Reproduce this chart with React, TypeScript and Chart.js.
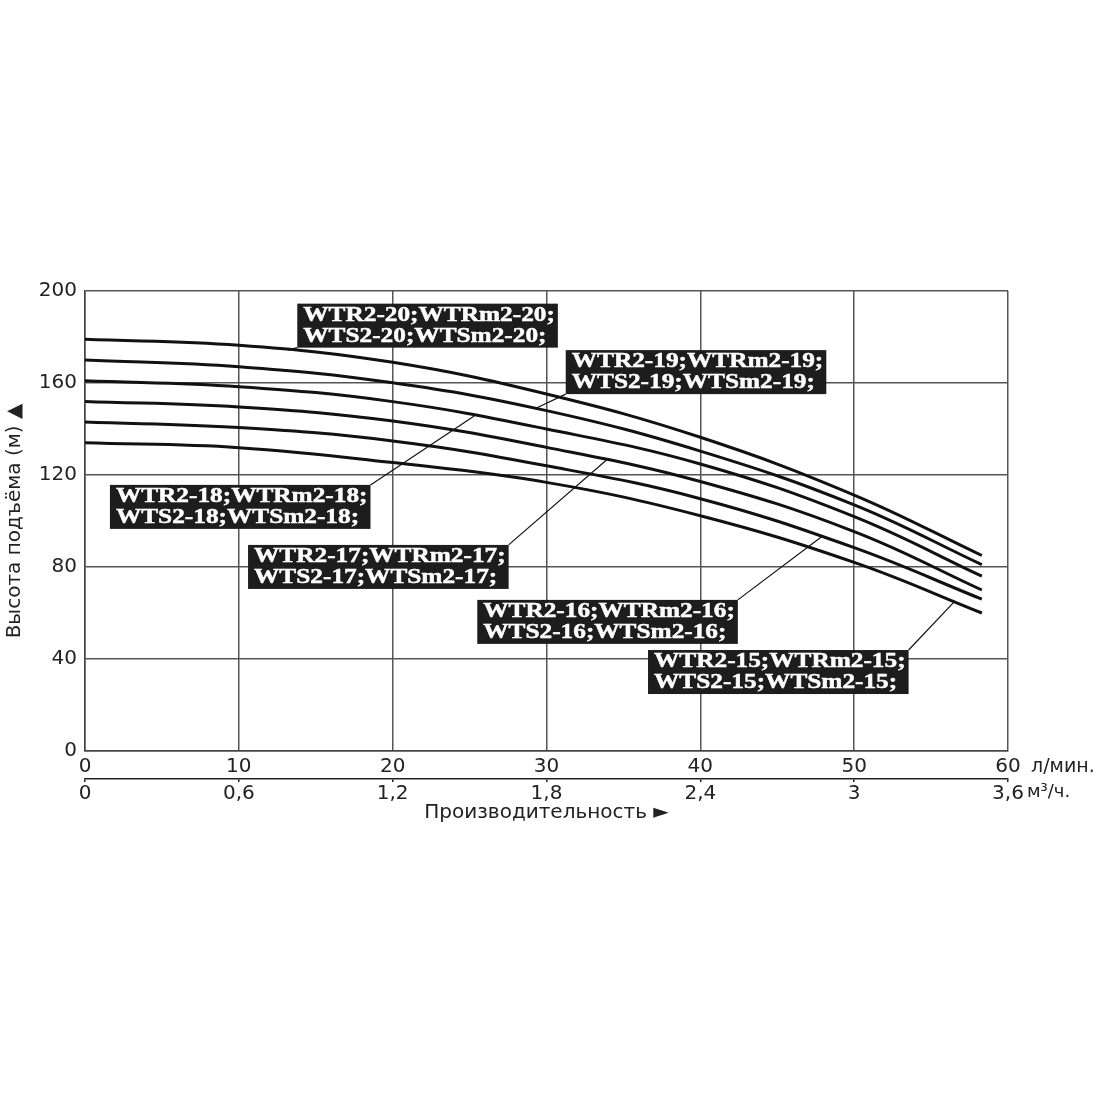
import React, { useEffect, useRef } from 'react';
import { Chart, registerables } from 'chart.js';

Chart.register(...registerables);

// ---- data ----
const flowLpm = [0, 10, 20, 30, 40, 50, 58.3];
const head20 = [179, 176.4, 169, 155.2, 136.4, 111.3, 85];
const head19 = [170, 167.1, 160.1, 148, 130.4, 107, 81];
const head18 = [161, 158.4, 151.9, 140, 124.8, 101.9, 76];
const head17 = [152, 149.6, 143.5, 132, 117.2, 95.4, 70];
const head16 = [143, 140.6, 134.8, 124, 109.7, 88.4, 66];
const head15 = [134, 131.9, 125.4, 116.8, 102.3, 82, 60];

const seriesNames = ['WTR2-20', 'WTR2-19', 'WTR2-18', 'WTR2-17', 'WTR2-16', 'WTR2-15'];
const seriesHeads = [head20, head19, head18, head17, head16, head15];

const x2Values = [0, 0.6, 1.2, 1.8, 2.4, 3, 3.6];
const x2Labels = ['0', '0,6', '1,2', '1,8', '2,4', '3', '3,6'];

const labelTexts = [
  ['WTR2-20;WTRm2-20;', 'WTS2-20;WTSm2-20;'],
  ['WTR2-19;WTRm2-19;', 'WTS2-19;WTSm2-19;'],
  ['WTR2-18;WTRm2-18;', 'WTS2-18;WTSm2-18;'],
  ['WTR2-17;WTRm2-17;', 'WTS2-17;WTSm2-17;'],
  ['WTR2-16;WTRm2-16;', 'WTS2-16;WTSm2-16;'],
  ['WTR2-15;WTRm2-15;', 'WTS2-15;WTSm2-15;'],
];
// box top-left (flow, head), leader corner, leader target on curve (flow, head)
const labelBoxFlow = [13.8, 31.25, 1.62, 10.6, 25.5, 36.6];
const labelBoxHead = [194.5, 174.3, 115.7, 89.6, 65.7, 43.9];
const labelCorner = ['bl', 'bl', 'tr', 'tr', 'tr', 'tr'];
const labelTargetFlow = [13.18, 29.35, 25.3, 33.9, 47.86, 56.5];
const labelTargetHead = [174.3, 149.1, 145.7, 126.5, 93, 64.8];

const SANS = '"DejaVu Sans", "Liberation Sans", Arial, sans-serif';
const SERIF = '"Liberation Serif", "Times New Roman", serif';

const labelsPlugin = {
  id: 'pumpLabels',
  afterDatasetsDraw(chart: any) {
    const { ctx } = chart;
    const x = chart.scales.x;
    const y = chart.scales.y;
    const sx = 1.15;
    ctx.save();
    ctx.font = `bold 22px ${SERIF}`;
    ctx.textBaseline = 'alphabetic';
    ctx.textAlign = 'left';
    labelTexts.forEach((lines, i) => {
      const bx = x.getPixelForValue(labelBoxFlow[i]);
      const by = y.getPixelForValue(labelBoxHead[i]);
      const tw = Math.max(...lines.map((t) => ctx.measureText(t).width)) * sx;
      const w = tw + 9;
      const h = 44;
      const cx = labelCorner[i] === 'bl' ? bx : bx + w;
      const cy = labelCorner[i] === 'bl' ? by + h : by;
      ctx.strokeStyle = '#111';
      ctx.lineWidth = 1.2;
      ctx.beginPath();
      ctx.moveTo(cx, cy);
      ctx.lineTo(x.getPixelForValue(labelTargetFlow[i]), y.getPixelForValue(labelTargetHead[i]));
      ctx.stroke();
      ctx.fillStyle = '#1d1d1d';
      ctx.fillRect(bx, by, w, h);
      ctx.fillStyle = '#ffffff';
      ctx.strokeStyle = '#ffffff';
      ctx.lineWidth = 0.5;
      lines.forEach((t, j) => {
        ctx.save();
        ctx.translate(bx + 6, by + 17 + j * 21);
        ctx.scale(sx, 1);
        ctx.fillText(t, 0, 0);
        ctx.strokeText(t, 0, 0);
        ctx.restore();
      });
    });
    ctx.restore();
  },
  afterDraw(chart: any) {
    const { ctx } = chart;
    const x = chart.scales.x;
    const x2 = chart.scales.x2;
    ctx.save();
    ctx.font = `19px ${SANS}`;
    ctx.fillStyle = '#222';
    ctx.textAlign = 'left';
    ctx.textBaseline = 'middle';
    ctx.fillText('л/мин.', x.right + 23, x.top + 16);
    ctx.font = `18px ${SANS}`;
    ctx.fillText('м³/ч.', x.right + 19, x2.top + 13);
    ctx.restore();
  },
};

export default function App() {
  const ref = useRef<HTMLCanvasElement | null>(null);
  useEffect(() => {
    if (!ref.current) return;
    const datasets = seriesHeads.map((h, i) => ({
      label: seriesNames[i],
      data: flowLpm.map((f, k) => ({ x: f, y: h[k] })),
      borderColor: '#111',
      borderWidth: 3,
      pointRadius: 0,
      fill: false,
      tension: 0.4,
      xAxisID: 'x',
      yAxisID: 'y',
    }));
    const chart = new Chart(ref.current, {
      type: 'line',
      data: { datasets },
      options: {
        responsive: false,
        animation: false,
        layout: { padding: { top: 291, left: 0, right: 92, bottom: 273 } },
        plugins: { legend: { display: false }, tooltip: { enabled: false } },
        scales: {
          x: {
            type: 'linear',
            position: 'bottom',
            weight: 0,
            min: 0,
            max: 60,
            ticks: { stepSize: 10, font: { family: SANS, size: 20 }, color: '#222', padding: 4, maxRotation: 0 },
            grid: { color: '#555', lineWidth: 1.5, drawTicks: false },
            border: { display: true, color: '#444', width: 1.5 },
            afterFit: (s: any) => { s.height = 28; },
          },
          x2: {
            type: 'linear',
            position: 'bottom',
            weight: 1,
            min: 0,
            max: 3.6,
            afterBuildTicks: (s: any) => { s.ticks = x2Values.map((v) => ({ value: v })); },
            ticks: {
              font: { family: SANS, size: 20 },
              color: '#222',
              padding: 0,
              maxRotation: 0,
              autoSkip: false,
              callback: (_v: any, idx: number) => x2Labels[idx],
            },
            grid: { drawOnChartArea: false, drawTicks: true, tickLength: 3, color: '#222', lineWidth: 1.5 },
            border: { display: true, color: '#222', width: 1.5 },
            title: {
              display: true,
              text: 'Производительность ►',
              font: { family: SANS, size: 20 },
              color: '#222',
              padding: { top: 0, bottom: 2 },
            },
            afterFit: (s: any) => { s.height = 48; },
          },
          y: {
            type: 'linear',
            min: 0,
            max: 200,
            ticks: { stepSize: 40, font: { family: SANS, size: 20 }, color: '#222', padding: 8 },
            grid: { color: '#555', lineWidth: 1.5, drawTicks: false },
            border: { display: true, color: '#444', width: 1.5 },
            title: {
              display: true,
              text: 'Высота подъёма (м) ▲',
              font: { family: SANS, size: 20 },
              color: '#222',
              padding: { top: 3, bottom: 0 },
            },
            afterFit: (s: any) => { s.width = 85; },
          },
        },
      },
      plugins: [labelsPlugin],
    });
    return () => chart.destroy();
  }, []);
  return (
    <div style={{ position: 'fixed', left: 0, top: 0, width: 1100, height: 1100, background: '#fff' }}>
      <canvas ref={ref} width={1100} height={1100} style={{ display: 'block' }} />
    </div>
  );
}
